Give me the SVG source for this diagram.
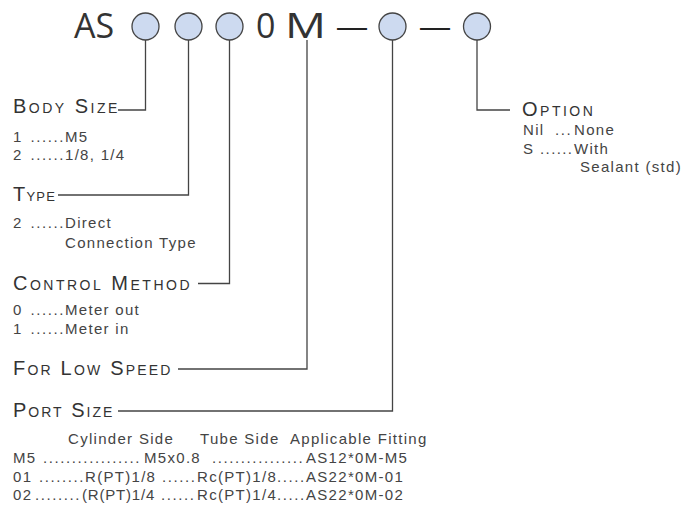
<svg xmlns="http://www.w3.org/2000/svg" width="693" height="510" viewBox="0 0 693 510">
<style>
.big{font-family:"Open Sans","Liberation Sans",sans-serif;font-size:34px;fill:#333}
.dash{font-family:"Liberation Sans",Arial,sans-serif;font-size:30px;fill:#222}
.h{font-family:"Liberation Sans",Arial,sans-serif;font-size:20px;letter-spacing:2.5px;fill:#333}
.h .s{font-size:14px}
.t{font-family:"Liberation Sans",Arial,sans-serif;font-size:15px;letter-spacing:1.3px;fill:#444}
.t .d{letter-spacing:1.6px}
.c{fill:#cddaf0;stroke:#444;stroke-width:1.3}
.ln{fill:none;stroke:#444;stroke-width:1.3}
</style>
<rect width="693" height="510" fill="#fff"/>
<g id="connectors">
<path class="ln" d="M145.5,40 V110 H118"/>
<path class="ln" d="M188.5,40 V195 H58"/>
<path class="ln" d="M229.5,40 V283.5 H198"/>
<path class="ln" d="M307,40 V369 H178"/>
<path class="ln" d="M392.5,40 V411 H118"/>
<path class="ln" d="M477,40 V110 H510"/>
</g>
<g id="code">
<text class="big" x="74" y="38">AS</text>
<circle class="c" cx="145.5" cy="26.5" r="13.5"/>
<circle class="c" cx="188.5" cy="26.5" r="13.5"/>
<circle class="c" cx="229.5" cy="26.5" r="13.5"/>
<text class="big" x="256" y="38">0</text>
<text class="big" x="285" y="38" textLength="41" lengthAdjust="spacingAndGlyphs">M</text>
<text class="dash" x="337" y="36.5">—</text>
<circle class="c" cx="392.5" cy="26.5" r="13.5"/>
<text class="dash" x="420" y="36.5">—</text>
<circle class="c" cx="477" cy="26.5" r="13.5"/>
</g>
<g id="body-size">
<text class="h" x="13" y="112.5">B<tspan class="s">ODY</tspan> S<tspan class="s">IZE</tspan></text>
<text class="t" y="141.5"><tspan x="13">1 </tspan><tspan class="d" x="30.5">......</tspan><tspan x="65">M5</tspan></text>
<text class="t" y="160"><tspan x="13">2 </tspan><tspan class="d" x="30.5">......</tspan><tspan x="65">1/8, 1/4</tspan></text>
</g>
<g id="type">
<text class="h" x="13" y="201" style="letter-spacing:1.2px">T<tspan style="font-size:13px">YPE</tspan></text>
<text class="t" y="228"><tspan x="13">2 </tspan><tspan class="d" x="30.5">......</tspan><tspan x="65">Direct</tspan></text>
<text class="t" x="65" y="248">Connection Type</text>
</g>
<g id="control-method">
<text class="h" x="13" y="290">C<tspan class="s">ONTROL</tspan> M<tspan class="s">ETHOD</tspan></text>
<text class="t" y="315"><tspan x="13">0 </tspan><tspan class="d" x="30.5">......</tspan><tspan x="65">Meter out</tspan></text>
<text class="t" y="334"><tspan x="13">1 </tspan><tspan class="d" x="30.5">......</tspan><tspan x="65">Meter in</tspan></text>
</g>
<g id="low-speed">
<text class="h" x="13" y="375" style="letter-spacing:2.2px">F<tspan class="s">OR</tspan> L<tspan class="s">OW</tspan> S<tspan class="s">PEED</tspan></text>
</g>
<g id="port-size">
<text class="h" x="13" y="416.5" style="letter-spacing:2px">P<tspan class="s">ORT</tspan> S<tspan class="s">IZE</tspan></text>
<text class="t" y="444"><tspan x="68">Cylinder Side</tspan><tspan x="200">Tube Side</tspan><tspan x="290">Applicable Fitting</tspan></text>
<text class="t" y="463"><tspan x="13">M5 </tspan><tspan class="d" x="43">.................</tspan><tspan x="144">M5x0.8 </tspan><tspan class="d" x="212">................</tspan><tspan x="306">AS12*0M-M5</tspan></text>
<text class="t" y="481.5"><tspan x="13">01 </tspan><tspan class="d" x="39">........</tspan><tspan x="85">R(PT)1/8 </tspan><tspan class="d" x="162">......</tspan><tspan x="197">Rc(PT)1/8</tspan><tspan class="d" x="277">.....</tspan><tspan x="306">AS22*0M-01</tspan></text>
<text class="t" y="500"><tspan x="13">02</tspan><tspan class="d" x="35">........</tspan><tspan x="82" style="letter-spacing:0.8px">(R(PT)1/4 </tspan><tspan class="d" x="161">......</tspan><tspan x="197">Rc(PT)1/4</tspan><tspan class="d" x="277">.....</tspan><tspan x="306">AS22*0M-02</tspan></text>
</g>
<g id="option">
<text class="h" x="522" y="116">O<tspan class="s">PTION</tspan></text>
<text class="t" y="135"><tspan x="523">Nil </tspan><tspan class="d" x="555">...</tspan><tspan x="574">None</tspan></text>
<text class="t" y="153.5"><tspan x="523">S </tspan><tspan class="d" x="540" style="letter-spacing:1.4px">......</tspan><tspan x="574">With</tspan></text>
<text class="t" x="580" y="172">Sealant (std)</text>
</g>
</svg>
